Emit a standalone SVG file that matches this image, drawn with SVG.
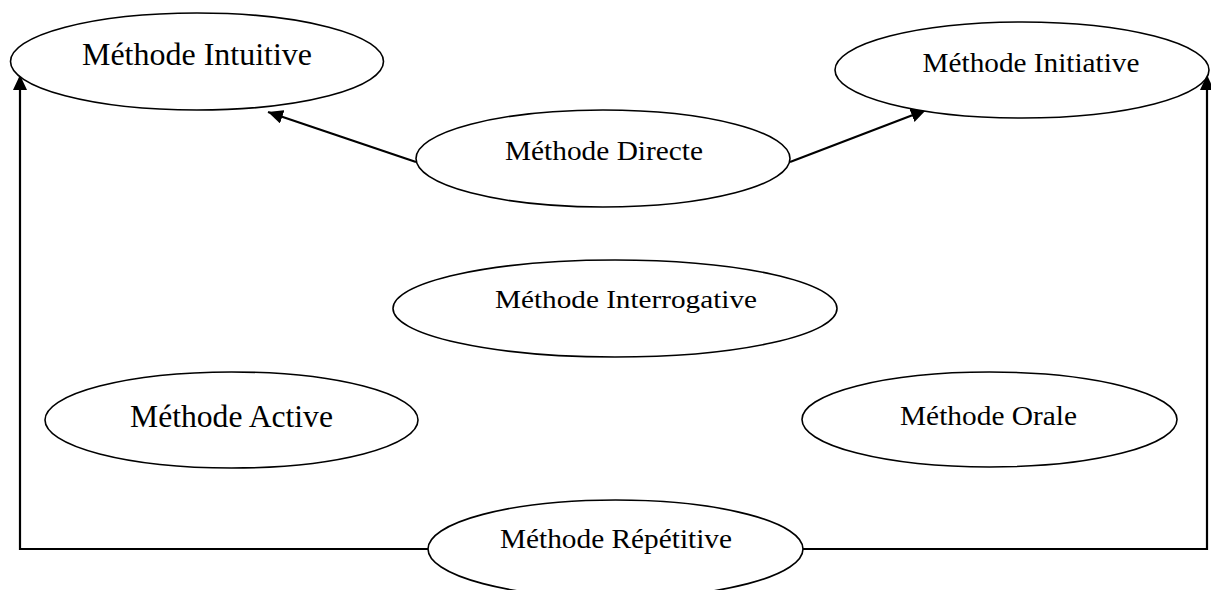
<svg xmlns="http://www.w3.org/2000/svg" width="1211" height="590" viewBox="0 0 1211 590">
<style>
.node ellipse{fill:#fff;stroke:#000;stroke-width:1.6}
.node text{font-family:"Liberation Serif","Times New Roman",serif;fill:#000;text-anchor:middle}
.conn{fill:none;stroke:#000;stroke-width:2.2}
</style>
<defs>
<marker id="arr" markerUnits="userSpaceOnUse" markerWidth="16" markerHeight="14" refX="15" refY="7" orient="auto">
<path d="M0,0 L15,7 L0,14 z" fill="#000"/>
</marker>
</defs>
<rect width="1211" height="590" fill="#fff"/>
<g id="connectors">
<line class="conn" x1="416" y1="162" x2="268" y2="112" marker-end="url(#arr)"/>
<line class="conn" x1="790" y1="162" x2="926" y2="110" marker-end="url(#arr)"/>
<polyline class="conn" points="430,549 20,549 20,75" marker-end="url(#arr)"/>
<polyline class="conn" points="801,549 1207,549 1207,75" marker-end="url(#arr)"/>
</g>
<g id="node-intuitive" class="node">
<ellipse cx="197" cy="61.5" rx="186.5" ry="48.5"/>
<text x="197" y="65" font-size="31" textLength="230" lengthAdjust="spacingAndGlyphs">Méthode Intuitive</text>
</g>
<g id="node-initiative" class="node">
<ellipse cx="1022" cy="70" rx="187" ry="48"/>
<text x="1031" y="72" font-size="28" textLength="217" lengthAdjust="spacingAndGlyphs">Méthode Initiative</text>
</g>
<g id="node-directe" class="node">
<ellipse cx="603" cy="158.5" rx="187" ry="48.5"/>
<text x="604" y="160" font-size="27" textLength="198" lengthAdjust="spacingAndGlyphs">Méthode Directe</text>
</g>
<g id="node-interrogative" class="node">
<ellipse cx="615" cy="308.5" rx="222" ry="48.5"/>
<text x="626" y="308" font-size="26" textLength="262" lengthAdjust="spacingAndGlyphs">Méthode Interrogative</text>
</g>
<g id="node-active" class="node">
<ellipse cx="231.5" cy="420" rx="186.5" ry="48"/>
<text x="231.5" y="427" font-size="31" textLength="203" lengthAdjust="spacingAndGlyphs">Méthode Active</text>
</g>
<g id="node-orale" class="node">
<ellipse cx="989.5" cy="419.5" rx="187.5" ry="47.5"/>
<text x="988.5" y="425" font-size="28" textLength="177" lengthAdjust="spacingAndGlyphs">Méthode Orale</text>
</g>
<g id="node-repetitive" class="node">
<ellipse cx="615.5" cy="549" rx="187.5" ry="49"/>
<text x="616" y="548" font-size="28" textLength="232" lengthAdjust="spacingAndGlyphs">Méthode Répétitive</text>
</g>
</svg>
